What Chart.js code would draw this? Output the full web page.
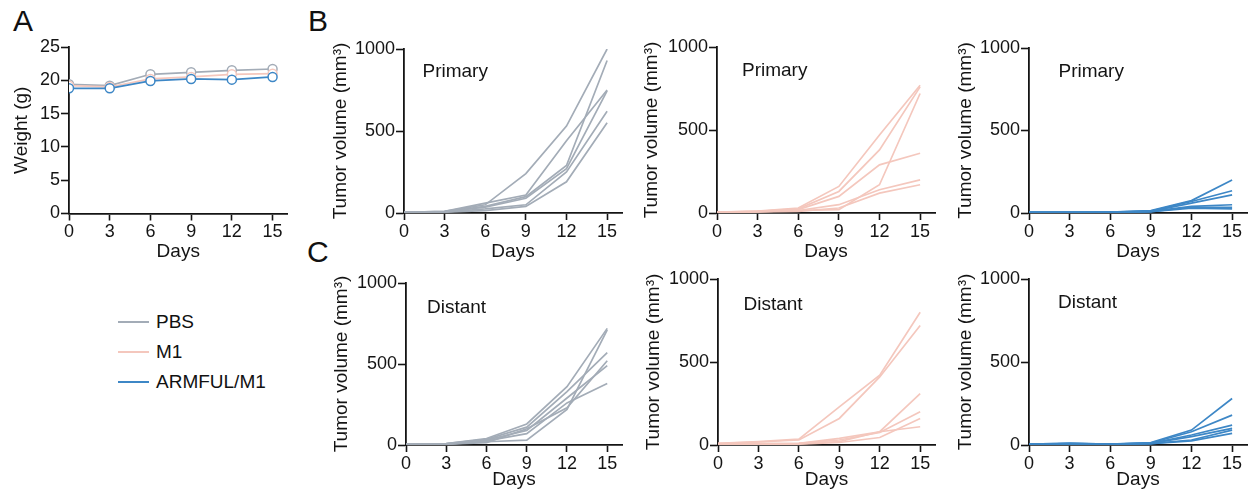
<!DOCTYPE html>
<html>
<head>
<meta charset="utf-8">
<title>Body weight and tumor growth</title>
<script src="https://cdn.jsdelivr.net/npm/chart.js"></script>
<style>
    body { margin: 0; background: #fff; font-family: Arial, "Liberation Sans", sans-serif; color: #111; }
    #fig { position: relative; width: 1257px; height: 498px; overflow: hidden; }
    #fig canvas { position: absolute; }
    .letter { position: absolute; font-size: 30px; line-height: 1; }
    .legend { position: absolute; left: 118px; top: 307px; font-size: 19px; }
    .legend div { height: 30px; display: flex; align-items: center; }
    .legend .swatch { display: inline-block; width: 31px; height: 2px; margin-right: 7px; }
</style>
</head>
<body>
<div id="fig">
    <div class="letter" style="left:13px; top:6px;">A</div>
    <div class="letter" style="left:308px; top:6px;">B</div>
    <div class="letter" style="left:307px; top:237px;">C</div>
    <div class="legend">
        <div><span class="swatch" style="background:#a3acb7"></span>PBS</div>
        <div><span class="swatch" style="background:#f4c7bd"></span>M1</div>
        <div><span class="swatch" style="background:#3d87c6"></span>ARMFUL/M1</div>
    </div>
</div>

<script>
    // measurement days and axis ticks
    const days = [0, 3, 6, 9, 12, 15];
    const dayTicks = [0, 3, 6, 9, 12, 15];
    const weightTicks = [0, 5, 10, 15, 20, 25];
    const volumeTicks = [0, 500, 1000];

    // mean body weight (g)
    const weightPBS = [19.4, 19.2, 20.9, 21.2, 21.5, 21.7];
    const weightM1 = [19.2, 19.0, 20.2, 20.5, 20.9, 21.0];
    const weightARMFUL = [18.8, 18.8, 19.9, 20.2, 20.1, 20.5];

    // individual tumor volumes (mm3), one array per mouse
    const primaryPBS = [
        [4, 10, 50, 240, 530, 1000],
        [4, 10, 60, 110, 440, 750],
        [3, 8, 40, 100, 290, 930],
        [3, 8, 35, 90, 270, 745],
        [2, 6, 25, 50, 250, 620],
        [2, 5, 15, 40, 190, 550]
    ];
    const primaryM1 = [
        [5, 12, 30, 160, 470, 770],
        [5, 10, 25, 130, 380, 760],
        [4, 10, 20, 100, 290, 360],
        [3, 8, 15, 20, 170, 720],
        [3, 8, 15, 50, 140, 200],
        [2, 6, 10, 30, 120, 170]
    ];
    const primaryARMFUL = [
        [5, 5, 6, 15, 75, 200],
        [4, 4, 5, 12, 70, 135],
        [4, 4, 5, 10, 60, 110],
        [3, 3, 4, 10, 40, 50],
        [3, 3, 4, 8, 35, 35],
        [2, 2, 3, 8, 30, 25]
    ];
    const distantPBS = [
        [5, 8, 40, 130, 360, 720],
        [4, 8, 35, 110, 330, 570],
        [4, 7, 30, 90, 290, 490],
        [3, 6, 25, 70, 260, 380],
        [3, 6, 20, 30, 220, 710],
        [2, 5, 15, 100, 230, 520]
    ];
    const distantM1 = [
        [10, 20, 35, 230, 420, 800],
        [10, 18, 30, 160, 410, 720],
        [5, 8, 10, 40, 80, 310],
        [5, 8, 10, 30, 75, 200],
        [4, 6, 8, 20, 80, 110],
        [3, 5, 5, 15, 45, 160]
    ];
    const distantARMFUL = [
        [5, 10, 5, 15, 90, 280],
        [5, 10, 5, 12, 80, 180],
        [4, 8, 5, 10, 60, 120],
        [4, 8, 5, 10, 50, 100],
        [3, 6, 4, 8, 30, 90],
        [3, 6, 4, 8, 25, 70]
    ];

    const GRAY = '#a3acb7';
    const PINK = '#f4c7bd';
    const BLUE = '#3d87c6';
    const INK = '#141414';
    const FONT = 'Arial, "Liberation Sans", sans-serif';
    const LH = 19 * 1.2;

    // in-plot caption ("Primary" / "Distant")
    const captionPlugin = {
        id: 'caption',
        afterDraw(chart, args, opts) {
            if (!opts.text) return;
            const ctx = chart.ctx;
            ctx.save();
            ctx.font = '19px ' + FONT;
            ctx.fillStyle = INK;
            ctx.textBaseline = 'middle';
            ctx.textAlign = 'left';
            ctx.fillText(opts.text, opts.x, opts.y);
            ctx.restore();
        }
    };

    function toPoints(values) {
        return days.map((d, i) => ({ x: d, y: values[i] }));
    }

    function spaghetti(groups, color) {
        return groups.map(v => ({
            data: toPoints(v),
            borderColor: color,
            borderWidth: 1.7,
            pointRadius: 0,
            tension: 0,
            fill: false
        }));
    }

    function meanLine(values, color) {
        return {
            data: toPoints(values),
            borderColor: color,
            borderWidth: 1.7,
            pointRadius: 4.5,
            pointBorderWidth: 1.5,
            pointBackgroundColor: '#fff',
            pointBorderColor: color,
            tension: 0,
            fill: false
        };
    }

    // p: box = canvas rect, area = plot rect (page px), yTitleX / xTitleY = title centres
    function makePanel(p) {
        const [bx, by, bw, bh] = p.box;
        const a = p.area;
        const canvas = document.createElement('canvas');
        canvas.width = bw;
        canvas.height = bh;
        canvas.style.left = bx + 'px';
        canvas.style.top = by + 'px';
        document.getElementById('fig').appendChild(canvas);

        const yWidth = a.left - bx;
        const xHeight = by + bh - a.bottom;

        new Chart(canvas, {
            type: 'line',
            data: { datasets: p.datasets },
            plugins: [captionPlugin],
            options: {
                responsive: false,
                animation: false,
                events: [],
                layout: { padding: { left: 0, top: a.top - by, right: bx + bw - a.right, bottom: 0 } },
                plugins: {
                    legend: { display: false },
                    tooltip: { enabled: false },
                    caption: p.caption ? { text: p.caption.text, x: p.caption.x - bx, y: p.caption.y - by } : {}
                },
                scales: {
                    x: {
                        type: 'linear',
                        min: 0,
                        max: 16.1,
                        afterBuildTicks: s => { s.ticks = dayTicks.map(v => ({ value: v })); },
                        afterFit: s => { s.height = xHeight; },
                        ticks: {
                            color: INK, font: { family: FONT, size: 18 }, padding: 1,
                            maxRotation: 0, autoSkip: false, callback: v => String(v)
                        },
                        grid: { display: true, drawOnChartArea: false, drawTicks: true, tickLength: 7, tickColor: INK, tickWidth: 1.6 },
                        border: { display: true, color: INK, width: 1.8 },
                        title: {
                            display: true, text: 'Days', color: INK,
                            font: { family: FONT, size: 19 },
                            padding: { top: 0, bottom: by + bh - p.xTitleY - LH / 2 }
                        }
                    },
                    y: {
                        min: 0,
                        max: p.yMax,
                        afterBuildTicks: s => { s.ticks = p.yTicks.map(v => ({ value: v })); },
                        afterFit: s => { s.width = yWidth; },
                        ticks: { color: INK, font: { family: FONT, size: 18 }, padding: 1, callback: v => String(v) },
                        grid: { display: true, drawOnChartArea: false, drawTicks: true, tickLength: 8, tickColor: INK, tickWidth: 1.6 },
                        border: { display: true, color: INK, width: 1.8 },
                        title: {
                            display: true, text: p.yTitle, color: INK,
                            font: { family: FONT, size: 19 },
                            padding: { top: p.yTitleX - bx - LH / 2, bottom: 0 }
                        }
                    }
                }
            }
        });
    }

    const VOL = 'Tumor volume (mm³)';

    makePanel({
        box: [0, 30, 300, 236], area: { left: 69, top: 47, right: 287.5, bottom: 213.5 },
        yTitleX: 21.5, xTitleY: 251.5, yMax: 25, yTicks: weightTicks, yTitle: 'Weight (g)',
        datasets: [meanLine(weightARMFUL, BLUE), meanLine(weightM1, PINK), meanLine(weightPBS, GRAY)]
    });

    makePanel({
        box: [300, 30, 330, 236], area: { left: 404, top: 49, right: 622, bottom: 213 },
        yTitleX: 340.5, xTitleY: 251.5, yMax: 1000, yTicks: volumeTicks, yTitle: VOL,
        caption: { text: 'Primary', x: 422.5, y: 72 },
        datasets: spaghetti(primaryPBS, GRAY)
    });
    makePanel({
        box: [630, 30, 310, 236], area: { left: 717, top: 47, right: 935, bottom: 213 },
        yTitleX: 651.5, xTitleY: 251.5, yMax: 1000, yTicks: volumeTicks, yTitle: VOL,
        caption: { text: 'Primary', x: 742, y: 70.5 },
        datasets: spaghetti(primaryM1, PINK)
    });
    makePanel({
        box: [940, 30, 317, 236], area: { left: 1029, top: 48, right: 1247, bottom: 213 },
        yTitleX: 965.5, xTitleY: 251.5, yMax: 1000, yTicks: volumeTicks, yTitle: VOL,
        caption: { text: 'Primary', x: 1058.5, y: 72 },
        datasets: spaghetti(primaryARMFUL, BLUE)
    });

    makePanel({
        box: [300, 266, 330, 232], area: { left: 406, top: 283, right: 622, bottom: 445 },
        yTitleX: 341.5, xTitleY: 479.5, yMax: 1000, yTicks: volumeTicks, yTitle: VOL,
        caption: { text: 'Distant', x: 427, y: 308 },
        datasets: spaghetti(distantPBS, GRAY)
    });
    makePanel({
        box: [630, 266, 310, 232], area: { left: 718, top: 279, right: 935, bottom: 445 },
        yTitleX: 653.5, xTitleY: 479.5, yMax: 1000, yTicks: volumeTicks, yTitle: VOL,
        caption: { text: 'Distant', x: 743.5, y: 304.5 },
        datasets: spaghetti(distantM1, PINK)
    });
    makePanel({
        box: [940, 266, 317, 232], area: { left: 1029, top: 279, right: 1247, bottom: 445 },
        yTitleX: 965.5, xTitleY: 479.5, yMax: 1000, yTicks: volumeTicks, yTitle: VOL,
        caption: { text: 'Distant', x: 1058, y: 303 },
        datasets: spaghetti(distantARMFUL, BLUE)
    });
</script>
</body>
</html>
